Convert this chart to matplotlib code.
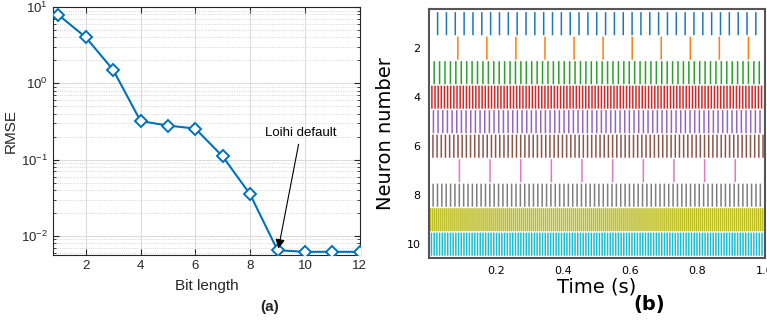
import numpy as np
import matplotlib
matplotlib.use("Agg")
import matplotlib.pyplot as plt
from matplotlib.ticker import LogLocator, NullFormatter, FixedLocator

# ---- data: panel (a)
bit_length = [1, 2, 3, 4, 5, 6, 7, 8, 9, 10, 11, 12]
rmse = [7.9, 4.0, 1.5, 0.32, 0.28, 0.255, 0.11, 0.035, 0.0065, 0.0062, 0.0062, 0.0062]
annot_text = "Loihi default"

# ---- data: panel (b) firing rates (Hz) of regular spike trains
neurons = [1, 2, 3, 4, 5, 6, 7, 8, 9, 10]
rates_hz = [38.0, 11.56, 62.0, 107.0, 72.0, 80.4, 10.96, 77.0, 167.0, 124.0]
neuron_ticks = [2, 4, 6, 8, 10]
time_ticks = [0.2, 0.4, 0.6, 0.8, 1.0]
duration = 1.0

fig = plt.figure(figsize=(7.67, 3.2), dpi=100)
fig.patch.set_facecolor("white")

# ---------------- panel (a)
axa = fig.add_axes([0.069, 0.203, 0.400, 0.775])
mblue = "#0072BD"
axa.plot(bit_length, rmse, color=mblue, lw=1.5, marker="D", ms=6,
         mfc="white", mec=mblue, mew=1.4, zorder=3)
axa.set_yscale("log")
axa.set_xlim(0.8, 12)
axa.set_ylim(10 ** -2.25, 10)
axa.xaxis.set_major_locator(FixedLocator([2, 4, 6, 8, 10, 12]))
axa.yaxis.set_major_locator(LogLocator(base=10, numticks=10))
axa.yaxis.set_minor_locator(LogLocator(base=10, subs=np.arange(2, 10), numticks=10))
axa.yaxis.set_minor_formatter(NullFormatter())
axa.grid(True, which="major", color="#dcdcdc", lw=0.8, ls="-")
axa.grid(True, which="minor", axis="y", color="#c8c8c8", lw=0.6, ls=":")
axa.set_axisbelow(True)
axa.tick_params(which="both", direction="in", top=True, right=True,
                labelsize=9.5, colors="#262626")
axa.tick_params(which="major", length=4)
axa.tick_params(which="minor", length=2)
for s in axa.spines.values():
    s.set_color("#262626")
    s.set_linewidth(0.8)
fontA = "Liberation Sans"
for lab in axa.get_xticklabels() + axa.get_yticklabels():
    lab.set_family(fontA)
axa.set_xlabel("Bit length", fontsize=11, family=fontA, color="#262626", labelpad=5)
axa.set_ylabel("RMSE", fontsize=11, family=fontA, color="#262626", labelpad=2)
axa.annotate(annot_text, xy=(9.03, 0.0068), xytext=(9.85, 0.225),
             ha="center", va="center", fontsize=9.5, family=fontA,
             arrowprops=dict(arrowstyle="-|>", color="black", lw=0.8,
                             mutation_scale=14, shrinkA=2, shrinkB=0))
fig.text(0.352, 0.04, "(a)", fontsize=11, fontweight="bold", family=fontA,
         ha="center", va="center", color="#262626")

# ---------------- panel (b)
axb = fig.add_axes([0.559, 0.194, 0.438, 0.778])
colors = plt.rcParams["axes.prop_cycle"].by_key()["color"]
spikes = []
for r in rates_hz:
    T = 1.0 / r
    spikes.append(np.arange(T, duration, T))
colls = axb.eventplot(spikes, lineoffsets=neurons, linelengths=0.94,
                      colors=colors[:len(neurons)], linewidths=1.1)
for c in colls:
    c.set_snap(False)
axb.set_xlim(0, 1.0)
axb.set_ylim(10.56, 0.4)
axb.set_yticks(neuron_ticks)
axb.set_xticks(time_ticks)
axb.set_xticklabels([f"{t:.1f}" for t in time_ticks])
axb.tick_params(labelsize=8, length=0, pad=6)
for s in axb.spines.values():
    s.set_color("#555555")
    s.set_linewidth(1.5)
axb.set_xlabel("Time (s)", fontsize=14, labelpad=1)
axb.set_ylabel("Neuron number", fontsize=14, labelpad=8)
fig.text(0.846, 0.047, "(b)", fontsize=14, fontweight="bold",
         ha="center", va="center")

fig.savefig("out.png", dpi=100)
